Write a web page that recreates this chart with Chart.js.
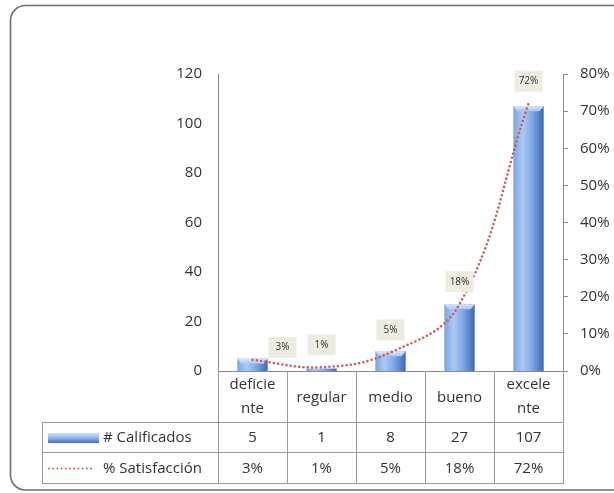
<!DOCTYPE html>
<html>
<head>
<meta charset="utf-8">
<script src="https://cdn.jsdelivr.net/npm/chart.js@4.4.0/dist/chart.umd.min.js"></script>
<style>
  html, body { margin: 0; padding: 0; background: #fff; }
  #wrap { width: 614px; height: 493px; }
</style>
</head>
<body>
<div id="wrap"><canvas id="grafico"></canvas></div>
<script>
// categorías (partidas en dos líneas como en la tabla)
const categorias = [['deficie', 'nte'], 'regular', 'medio', 'bueno', ['excele', 'nte']];
const calificados = [5, 1, 8, 27, 107];
const satisfaccion = [3, 1, 5, 18, 72];
const ticksCantidad = [0, 20, 40, 60, 80, 100, 120];
const ticksPorcentaje = [0, 10, 20, 30, 40, 50, 60, 70, 80];
const nombreBarras = '# Calificados';
const nombreLinea = '% Satisfacción';

const fuente = "'Open Sans', 'Noto Sans', sans-serif";
const colorTexto = '#333333';
const colorEje = '#8a8a8a';
const colorLinea = '#d05a5a';
const BAR_PCT = 0.44;

Chart.defaults.font.family = fuente;
Chart.defaults.font.size = 15;
Chart.defaults.color = colorTexto;

function degradadoAzul(ctx, x0, x1) {
    const g = ctx.createLinearGradient(x0, 0, x1, 0);
    g.addColorStop(0, '#7aa4e0');
    g.addColorStop(0.3, '#acc9f4');
    g.addColorStop(0.6, '#82aae8');
    g.addColorStop(1, '#3a68b8');
    return g;
}

function colorBarra(context) {
    const chart = context.chart;
    const x = chart.scales.x;
    if (!chart.chartArea || !x || context.dataIndex === undefined) return '#7ea7e6';
    const ancho = (chart.chartArea.right - chart.chartArea.left) / categorias.length * BAR_PCT;
    const cx = x.getPixelForValue(context.dataIndex);
    return degradadoAzul(chart.ctx, cx - ancho / 2, cx + ancho / 2);
}

// marco redondeado del gráfico
const marco = {
    id: 'marco',
    beforeDraw(chart) {
        const ctx = chart.ctx;
        ctx.save();
        ctx.fillStyle = '#fff';
        ctx.fillRect(0, 0, chart.width, chart.height);
        ctx.strokeStyle = '#6e6e6e';
        ctx.lineWidth = 1.6;
        ctx.beginPath();
        ctx.roundRect(10.5, 5.5, 640, 484.5, 15);
        ctx.stroke();
        ctx.restore();
    }
};

// brillo en la parte superior de cada barra
const biselBarras = {
    id: 'biselBarras',
    afterDatasetDraw(chart, args) {
        if (args.index !== 0) return;
        const ctx = chart.ctx;
        ctx.save();
        args.meta.data.forEach(bar => {
            const alto = bar.base - bar.y;
            if (alto < 4) return;
            const l = bar.x - bar.width / 2, r = bar.x + bar.width / 2;
            const b = Math.min(5, alto / 2);
            const g = ctx.createLinearGradient(0, bar.y, 0, bar.y + b);
            g.addColorStop(0, '#dbe8fb');
            g.addColorStop(1, '#a9c7f1');
            ctx.fillStyle = g;
            ctx.beginPath();
            ctx.moveTo(l, bar.y);
            ctx.lineTo(r, bar.y);
            ctx.lineTo(r - 4, bar.y + b);
            ctx.lineTo(l + 4, bar.y + b);
            ctx.closePath();
            ctx.fill();
        });
        ctx.restore();
    }
};

// etiquetas de porcentaje sobre la línea
const etiquetasLinea = {
    id: 'etiquetasLinea',
    afterDatasetsDraw(chart) {
        const ctx = chart.ctx;
        const meta = chart.getDatasetMeta(1);
        ctx.save();
        ctx.font = '10px ' + fuente;
        ctx.textAlign = 'center';
        ctx.textBaseline = 'middle';
        meta.data.forEach((pt, i) => {
            const dx = i === 0 ? 30 : 0;
            const dy = i === 0 ? -13 : -23;
            const cx = pt.x + dx, cy = pt.y + dy;
            ctx.fillStyle = '#eeece1';
            ctx.fillRect(cx - 14, cy - 10, 28, 21);
            ctx.fillStyle = '#333333';
            ctx.fillText(satisfaccion[i] + '%', cx, cy + 0.5);
        });
        ctx.restore();
    }
};

// tabla de datos bajo el eje de categorías
const tablaDatos = {
    id: 'tablaDatos',
    afterDraw(chart) {
        const ctx = chart.ctx;
        const area = chart.chartArea;
        const x = chart.scales.x;
        const n = categorias.length;
        const ancho = (area.right - area.left) / n;
        const y0 = area.bottom, y1 = y0 + 51, y2 = y0 + 81, y3 = y0 + 112;
        const izq = 42;

        ctx.save();
        ctx.strokeStyle = '#9a9a9a';
        ctx.lineWidth = 1;
        ctx.beginPath();
        [y1, y2, y3].forEach(y => {
            ctx.moveTo(izq, y + 0.5);
            ctx.lineTo(area.right + 1, y + 0.5);
        });
        for (let i = 0; i <= n; i++) {
            const xx = Math.round(area.left + i * ancho) + 0.5;
            ctx.moveTo(xx, y0);
            ctx.lineTo(xx, y3);
        }
        ctx.moveTo(izq + 0.5, y1);
        ctx.lineTo(izq + 0.5, y3 + 1);
        ctx.stroke();

        ctx.fillStyle = colorTexto;
        ctx.font = '15px ' + fuente;
        ctx.textAlign = 'center';
        ctx.textBaseline = 'middle';
        categorias.forEach((c, i) => {
            const cx = x.getPixelForValue(i);
            if (Array.isArray(c)) {
                ctx.fillText(c[0], cx, y0 + 14);
                ctx.fillText(c[1], cx, y0 + 38);
            } else {
                ctx.fillText(c, cx, (y0 + y1) / 2 + 1);
            }
            ctx.fillText(String(calificados[i]), cx, (y1 + y2) / 2 + 1);
            ctx.fillText(satisfaccion[i] + '%', cx, (y2 + y3) / 2 + 1);
        });

        // claves de la leyenda
        const gk = ctx.createLinearGradient(0, y1 + 11, 0, y1 + 21);
        gk.addColorStop(0, '#cfe0f8');
        gk.addColorStop(0.5, '#8fb3ea');
        gk.addColorStop(1, '#3f6fc0');
        ctx.fillStyle = gk;
        ctx.fillRect(48, y1 + 11, 51, 10);
        ctx.strokeStyle = colorLinea;
        ctx.lineWidth = 2;
        ctx.lineCap = 'round';
        ctx.setLineDash([0, 4.2]);
        ctx.beginPath();
        ctx.moveTo(49, (y2 + y3) / 2 + 1);
        ctx.lineTo(93, (y2 + y3) / 2 + 1);
        ctx.stroke();
        ctx.setLineDash([]);

        ctx.fillStyle = colorTexto;
        ctx.textAlign = 'left';
        ctx.fillText(nombreBarras, 103, (y1 + y2) / 2 + 1);
        ctx.fillText(nombreLinea, 103, (y2 + y3) / 2 + 1);
        ctx.restore();
    }
};

new Chart(document.getElementById('grafico'), {
    data: {
        labels: categorias,
        datasets: [{
            type: 'bar',
            label: nombreBarras,
            data: calificados,
            yAxisID: 'y',
            backgroundColor: colorBarra,
            borderWidth: 0,
            barPercentage: BAR_PCT,
            categoryPercentage: 1,
            order: 2
        }, {
            type: 'line',
            label: nombreLinea,
            data: satisfaccion,
            yAxisID: 'y1',
            borderColor: colorLinea,
            borderWidth: 2.6,
            borderCapStyle: 'round',
            borderDash: [0, 4.3],
            tension: 0.4,
            pointRadius: 0,
            order: 1
        }]
    },
    options: {
        responsive: true,
        maintainAspectRatio: false,
        animation: false,
        layout: { padding: { top: 74, bottom: 0, left: 0, right: 0 } },
        plugins: {
            legend: { display: false },
            tooltip: { enabled: false }
        },
        scales: {
            x: {
                ticks: { display: false },
                grid: { display: false, drawTicks: false },
                border: { display: true, color: colorEje },
                afterFit: s => { s.height = 122; }
            },
            y: {
                position: 'left',
                min: 0,
                max: 120,
                afterBuildTicks: s => { s.ticks = ticksCantidad.map(v => ({ value: v })); },
                ticks: { padding: 16, color: colorTexto },
                grid: { display: false, drawTicks: false },
                border: { display: true, color: colorEje },
                afterFit: s => { s.width = 218; }
            },
            y1: {
                position: 'right',
                min: 0,
                max: 80,
                afterBuildTicks: s => { s.ticks = ticksPorcentaje.map(v => ({ value: v })); },
                ticks: { padding: 12, color: colorTexto, callback: v => v + '%' },
                grid: { display: true, drawOnChartArea: false, drawTicks: true, tickLength: 5, color: colorEje },
                border: { display: true, color: colorEje },
                afterFit: s => { s.width = 51; }
            }
        }
    },
    plugins: [marco, biselBarras, etiquetasLinea, tablaDatos]
});
</script>
</body>
</html>
